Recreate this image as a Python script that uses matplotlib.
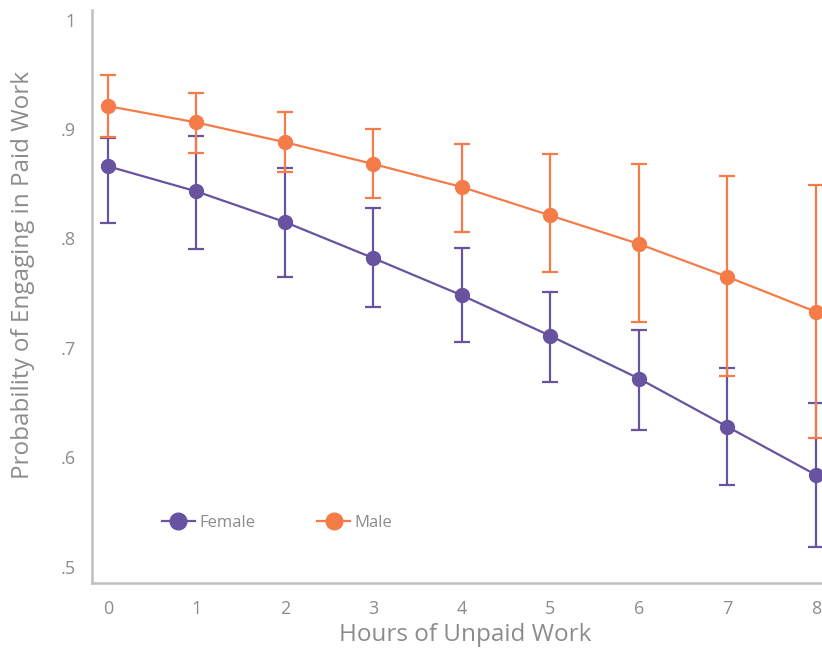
import numpy as np
import matplotlib.pyplot as plt
from matplotlib.lines import Line2D

plt.rcParams['font.family'] = ['Open Sans', 'DejaVu Sans']

# 数据
hours = [0, 1, 2, 3, 4, 5, 6, 7, 8]
female = [0.866, 0.843, 0.815, 0.782, 0.748, 0.711, 0.672, 0.628, 0.584]
female_hi = [0.892, 0.894, 0.864, 0.828, 0.791, 0.751, 0.716, 0.682, 0.650]
female_lo = [0.814, 0.790, 0.765, 0.737, 0.705, 0.669, 0.625, 0.575, 0.518]
male = [0.921, 0.906, 0.888, 0.868, 0.847, 0.821, 0.795, 0.765, 0.733]
male_hi = [0.949, 0.933, 0.916, 0.900, 0.886, 0.877, 0.868, 0.857, 0.849]
male_lo = [0.893, 0.878, 0.861, 0.837, 0.806, 0.769, 0.724, 0.674, 0.618]

purple = '#6753A0'
orange = '#F57B48'
grey = '#8C8C8C'

fig = plt.figure(figsize=(8.22, 6.53), dpi=100)
ax = fig.add_axes([0.112, 0.107, 0.888, 0.878])

series = [
    ('Female', female, female_lo, female_hi, purple),
    ('Male', male, male_lo, male_hi, orange),
]
handles = []
for name, y, lo, hi, c in series:
    y = np.array(y)
    err = [y - np.array(lo), np.array(hi) - y]
    ax.errorbar(hours, y, yerr=err, color=c, lw=1.6, marker='o', ms=10,
                capsize=6, capthick=1.6, elinewidth=1.6)
    handles.append(Line2D([], [], color=c, lw=1.6, marker='o', ms=12, label=name))

ax.set_xlim(-0.18, 8.07)
ax.set_ylim(0.485, 1.009)
ax.set_xticks(hours)
ax.set_yticks([0.5, 0.6, 0.7, 0.8, 0.9, 1.0])
ax.set_yticklabels(['.5', '.6', '.7', '.8', '.9', '1'])
ax.tick_params(length=0, colors=grey, labelsize=13, pad=12)

for s in ['top', 'right']:
    ax.spines[s].set_visible(False)
for s in ['left', 'bottom']:
    ax.spines[s].set_color('#BFBFBF')
    ax.spines[s].set_linewidth(1.8)

ax.set_xlabel('Hours of Unpaid Work', fontsize=17.5, color=grey)
ax.set_ylabel('Probability of Engaging in Paid Work', fontsize=17.5, color=grey)
ax.xaxis.set_label_coords(0.511, -0.07)
ax.yaxis.set_label_coords(-0.078, 0.537)

ax.legend(handles=handles, loc='lower left', bbox_to_anchor=(0.075, 0.065), ncol=2,
          frameon=False, fontsize=12, labelcolor=grey, columnspacing=3.7,
          handlelength=2.0, handletextpad=0.25)

fig.savefig('out.png')
